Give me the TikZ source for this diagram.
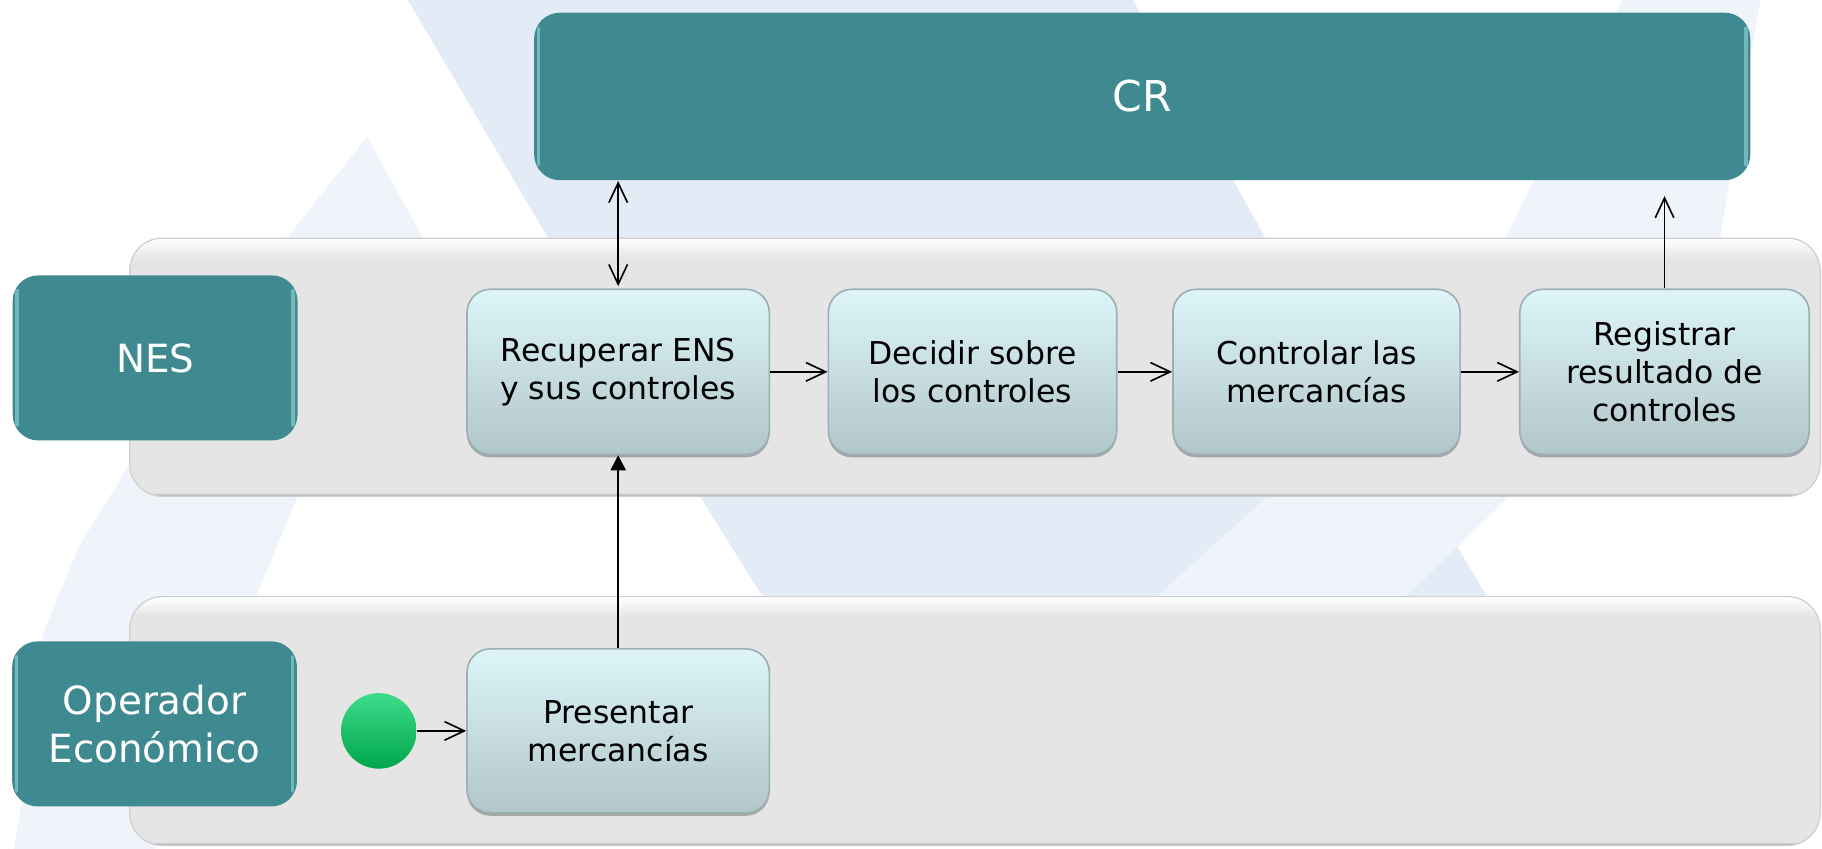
\documentclass[tikz,border=0pt]{standalone}
\usepackage{fontspec}
\setmainfont{DejaVu Sans}
\usetikzlibrary{arrows.meta,shadows}
\definecolor{tealbg}{HTML}{3E8A90}
\definecolor{tealHi}{HTML}{A8E4E8}
\definecolor{procTop}{HTML}{DDF5F9}
\definecolor{procBot}{HTML}{B1C6C9}
\definecolor{procEdge}{HTML}{9BB0B3}
\definecolor{laneFill}{HTML}{E5E5E5}
\definecolor{laneHi}{HTML}{F6F6F6}
\definecolor{laneBot}{HTML}{9C9C9C}
\definecolor{laneEdge}{HTML}{CFCFCF}
\definecolor{bgBlue}{HTML}{E2EBF6}
\definecolor{bgPale}{HTML}{EFF4FA}
\definecolor{greenTop}{HTML}{3DDC8C}
\definecolor{greenMid}{HTML}{00B354}
\definecolor{greenBot}{HTML}{00A64B}
\pgfdeclareverticalshading{laneshade}{100bp}{color(0bp)=(laneBot); color(25bp)=(laneBot); color(25.7bp)=(laneFill); color(71bp)=(laneFill); color(73.5bp)=(laneHi); color(75bp)=(white); color(100bp)=(white)}
\newcommand{\procfont}{\fontsize{7.7pt}{9.3pt}\selectfont}
\newcommand{\labfont}{\fontsize{9.5pt}{11.7pt}\selectfont}
\newcommand{\crlabfont}{\fontsize{10.4pt}{12.5pt}\selectfont}
\tikzset{
  openhead/.tip={Straight Barb[length=0.17cm,width=0.16cm]},
  solidhead/.tip={Triangle[length=0.13cm,width=0.13cm]},
  lane/.style={shape=rectangle, rounded corners=0.28cm, shading=laneshade, draw=laneEdge, line width=0.3pt, inner sep=0pt},
  tealbox/.style={shape=rectangle, rounded corners=0.22cm, fill=tealbg, text=white, font=\labfont, align=center, inner sep=0pt},
  tealhl/.style={draw=tealHi, line width=0.9pt, opacity=0.5, line cap=round},
  procbox/.style={shape=rectangle, rounded corners=0.2cm, top color=procTop, bottom color=procBot, draw=procEdge, line width=0.4pt, font=\procfont, text=black, align=center, inner sep=0pt, minimum height=1.42cm, drop shadow={shadow xshift=0cm, shadow yshift=-0.025cm, fill=black!55, opacity=0.55}},
  startdot/.style={shape=circle, minimum size=0.65cm, inner sep=0pt, top color=greenTop, middle color=greenMid, bottom color=greenBot},
  conn/.style={draw=black, line width=0.4pt},
  connbold/.style={draw=black, line width=0.5pt}
}
\begin{document}
\begin{tikzpicture}[x=0.01cm,y=-0.01cm]
\useasboundingbox (0,0) rectangle (1568,730.6);
% background watermark
\begin{scope}
\clip (0,0) rectangle (1568,730.6);
\fill[bgPale] (316,117.6) -- (365,206.5) -- (300,330) -- (255,430) -- (221,512) -- (160,650) -- (130,740) -- (10,740) -- (17,700) -- (37,545) -- (68,470) -- (112,399) -- (245.5,206.5) -- cycle;
\fill[bgPale] (1396,0) -- (1515,0) -- (1480,206.5) -- (1380,330) -- (1298,428) -- (1214,510) -- (1180,545) -- (960,545) -- (999,510) -- (1090,428) -- (1173,353) -- (1295,206.5) -- cycle;
\fill[bgBlue] (351,0) -- (975,0) -- (1090,206.5) -- (1173,353) -- (1090,428) -- (999,510) -- (960,545) -- (700,545) -- (654,510) -- (603,428) -- cycle;
\fill[bgBlue] (1254,470.6) -- (1299,545) -- (1178,545) -- cycle;
\end{scope}
% lanes
\node[lane, minimum width=14.54cm, minimum height=2.22cm] (nesLane) at (839,316) {};
\node[lane, minimum width=14.54cm, minimum height=2.14cm] (opLane) at (839,620.5) {};
% labels
\node[tealbox, minimum width=2.45cm, minimum height=1.42cm] (nes) at (133.5,308) {NES};
\node[tealbox, minimum width=2.45cm, minimum height=1.42cm] (op) at (133,623) {Operador\\Económico};
\node[tealbox, font=\crlabfont, minimum width=10.46cm, minimum height=1.44cm] (cr) at (983,83) {CR};
\foreach \n in {nes,op,cr}{
  \draw[tealhl] ([xshift=0.045cm,yshift=-0.14cm]\n.north west) -- ([xshift=0.045cm,yshift=0.14cm]\n.south west);
  \draw[tealhl] ([xshift=-0.045cm,yshift=-0.14cm]\n.north east) -- ([xshift=-0.045cm,yshift=0.14cm]\n.south east);
}
% process boxes
\node[procbox, minimum width=2.60cm] (rec) at (532,320) {Recuperar ENS\\y sus controles};
\node[procbox, minimum width=2.48cm] (dec) at (837,320) {Decidir sobre\\los controles};
\node[procbox, minimum width=2.47cm] (ctl) at (1133,320) {Controlar las\\mercancías};
\node[procbox, minimum width=2.49cm] (reg) at (1432.5,320) {Registrar\\resultado de\\controles};
\node[procbox, minimum width=2.60cm, minimum height=1.41cm] (pre) at (532,629) {Presentar\\mercancías};
\node[startdot] (start) at (326,629) {};
% connectors
\draw[conn, {openhead}-{openhead}] ([yshift=0.02cm]rec.north) -- (rec.north |- cr.south);
\draw[conn, -{openhead}] (reg.north) -- ([yshift=-0.13cm]reg.north |- cr.south);
\draw[conn, -{openhead}] (rec.east) -- (dec.west);
\draw[conn, -{openhead}] (dec.east) -- (ctl.west);
\draw[conn, -{openhead}] (ctl.east) -- (reg.west);
\draw[conn, -{openhead}] (start.east) -- (pre.west);
\draw[connbold, -{solidhead}] (pre.north) -- (pre.north |- rec.south);
\end{tikzpicture}
\end{document}
